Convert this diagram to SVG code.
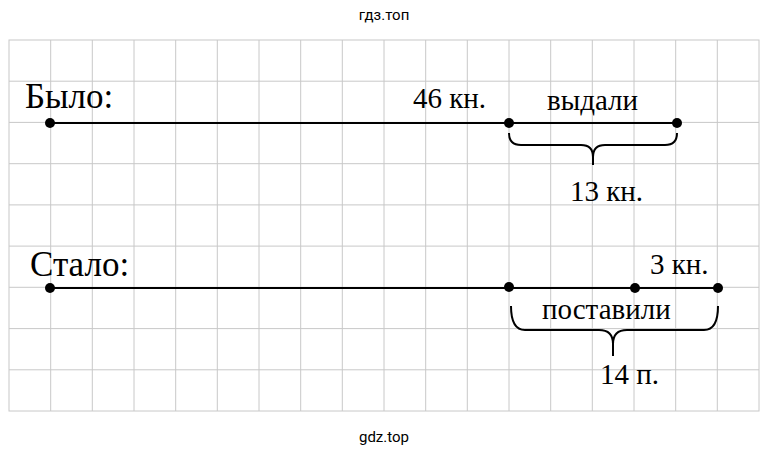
<svg xmlns="http://www.w3.org/2000/svg" width="769" height="457" viewBox="0 0 769 457">
<style>
.g{stroke:#c8c8c8;stroke-width:1}
.l{stroke:#000;stroke-width:2;fill:none}
.t{font-family:"Liberation Serif",serif;font-size:29px;fill:#000}
.h{font-size:35px}
.w{font-family:"Roboto",sans-serif;font-size:15px;fill:#000;text-anchor:middle}
</style>
<rect width="769" height="457" fill="#fff"/>
<g id="grid">
<rect x="9" y="40" width="750" height="371" fill="none" class="g"/>
<path class="g" d="M50.7 40V411M92.3 40V411M134 40V411M175.7 40V411M217.3 40V411M259 40V411M300.7 40V411M342.3 40V411M384 40V411M425.7 40V411M467.3 40V411M509 40V411M550.7 40V411M592.3 40V411M634 40V411M675.7 40V411M717.3 40V411M9 81.2H759M9 122.4H759M9 163.7H759M9 204.9H759M9 246.1H759M9 287.3H759M9 328.6H759M9 369.8H759"/>
</g>
<text class="w" x="384" y="20">гдз.топ</text>
<text class="w" x="384" y="442">gdz.top</text>
<g id="connectors">
<path class="l" d="M50 123H677"/>
<path class="l" d="M50 288H718"/>
<path class="l" d="M509 133q0 12 12 12H581q12 0 12 12v8M677 133q0 12 -12 12H605q-12 0 -12 12"/>
<path class="l" d="M511 306q0 24 14 24H599q14 0 14 14v12M718 306q0 24 -14 24H627q-14 0 -14 14"/>
</g>
<g id="dots" fill="#000">
<circle cx="50" cy="123" r="5"/><circle cx="509" cy="123" r="5"/><circle cx="677" cy="123" r="5"/>
<circle cx="50" cy="288" r="5"/><circle cx="509" cy="287" r="5"/><circle cx="635" cy="288" r="5"/><circle cx="718" cy="288" r="5"/>
</g>
<g id="labels">
<text class="t h" x="25" y="108">Было:</text>
<text class="t" x="413" y="108">46 кн.</text>
<text class="t" x="547" y="110">выдали</text>
<text class="t" x="570" y="201">13 кн.</text>
<text class="t h" x="30" y="276">Стало:</text>
<text class="t" x="650" y="274">3 кн.</text>
<text class="t" x="542" y="319">поставили</text>
<text class="t" x="600" y="384">14 п.</text>
</g>
</svg>
